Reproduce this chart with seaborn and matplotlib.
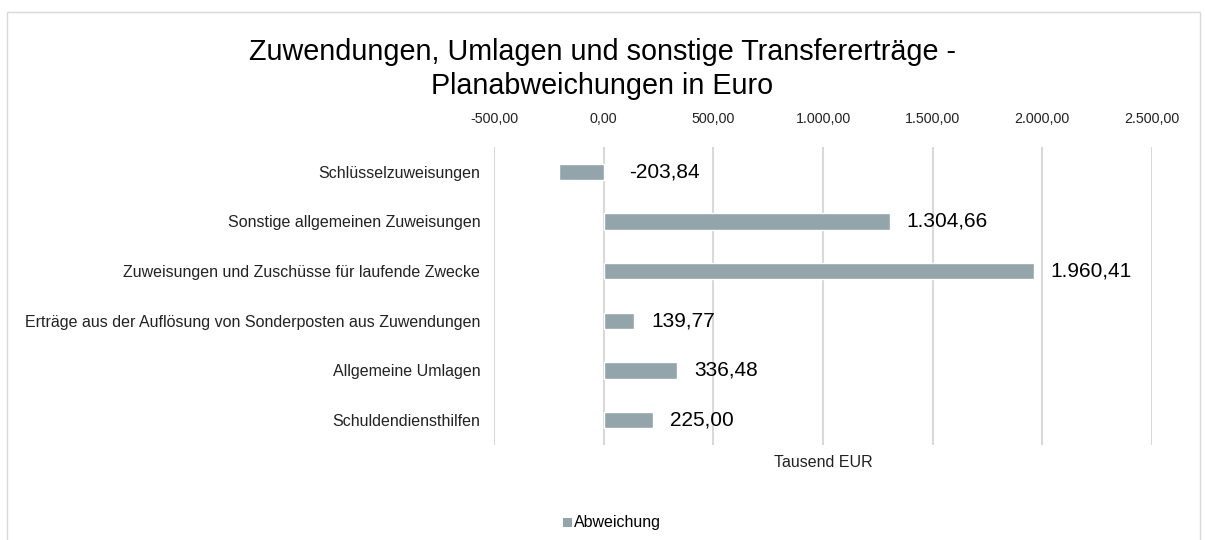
import numpy as np
import pandas as pd
import matplotlib
matplotlib.use("Agg")
import matplotlib.pyplot as plt
import seaborn as sns
from matplotlib.patches import Rectangle

kategorien = [
    "Schlüsselzuweisungen",
    "Sonstige allgemeinen Zuweisungen",
    "Zuweisungen und Zuschüsse für laufende Zwecke",
    "Erträge aus der Auflösung von Sonderposten aus Zuwendungen",
    "Allgemeine Umlagen",
    "Schuldendiensthilfen",
]
abweichung = [-203.84, 1304.66, 1960.41, 139.77, 336.48, 225.00]
ticks = [-500, 0, 500, 1000, 1500, 2000, 2500]

df = pd.DataFrame({"Kategorie": kategorien, "Abweichung": abweichung})

def de_format(v):
    s = f"{v:,.2f}"
    return s.replace(",", "X").replace(".", ",").replace("X", ".")

sns.set_theme(style="white")
plt.rcParams["font.family"] = ["Liberation Sans", "DejaVu Sans"]

farbe = "#93a4ab"
fig = plt.figure(figsize=(12.05, 5.4), dpi=100)
ax = fig.add_axes([0.41, 0.176, 0.546, 0.552])

sns.barplot(data=df, y="Kategorie", x="Abweichung", color=farbe,
            width=0.33, ax=ax, saturation=1, orient="h")

ax.set_xlim(-500, 2500)
ax.set_xticks(ticks)
ax.set_xticklabels([de_format(t) for t in ticks], fontsize=10.3, color="#222222")
ax.xaxis.tick_top()
ax.tick_params(axis="x", length=0, pad=15)
ax.tick_params(axis="y", length=0, pad=10, labelsize=11.5, labelcolor="#222222")
ax.grid(axis="x", color="#d9d9d9", linewidth=1.5)
ax.set_axisbelow(True)
for s in ax.spines.values():
    s.set_visible(False)
ax.set_ylabel("")
ax.set_xlabel("Tausend EUR", fontsize=11.5, color="#222222", labelpad=7)
ax.xaxis.set_label_position("bottom")

for i, v in enumerate(abweichung):
    off = 12 if v >= 0 else 18
    ax.annotate(de_format(v), xy=(max(v, 0), i), xytext=(off, 0),
                textcoords="offset points", va="center", ha="left",
                fontsize=15, color="#000000")

fig.text(0.5, 1 - 60 / 540, "Zuwendungen, Umlagen und sonstige Transfererträge -",
         ha="center", va="baseline", fontsize=20.7, color="#000000")
fig.text(0.5, 1 - 94 / 540, "Planabweichungen in Euro",
         ha="center", va="baseline", fontsize=20.7, color="#000000")

# legend
fig.text(0.4765, 0.033, "Abweichung", ha="left", va="center", fontsize=11.5, color="#000000")
fig.patches.append(Rectangle((0.4672, 0.0245), 0.0075, 0.0167, transform=fig.transFigure,
                             facecolor=farbe, edgecolor="none"))

# border
fig.patches.append(Rectangle((0.006, -0.1), 0.99, 1.077, transform=fig.transFigure,
                             facecolor="none", edgecolor="#d9d9d9", linewidth=1))

fig.savefig("out.png", dpi=100)
